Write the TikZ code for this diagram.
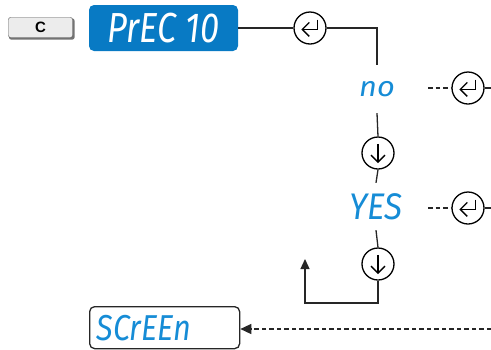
\documentclass[tikz,border=0pt]{standalone}
\usepackage{fontspec}
\usepackage{graphicx}
\usepackage{tikz}
\usetikzlibrary{arrows.meta}
\newfontfamily\segfont{Fira Sans}
\newfontfamily\keyfont{Liberation Sans}
\definecolor{dispblue}{RGB}{8,122,196}
\definecolor{segblue}{RGB}{22,140,214}
\definecolor{keygray}{RGB}{236,236,236}
\tikzset{
  seg/.style={font=\segfont\itshape, text=segblue, inner sep=0pt},
  keycirc/.style={draw, circle, line width=1.3pt, minimum size=32pt, inner sep=0pt, fill=white},
  wire/.style={line width=1.3pt, draw=black!85},
  dashwire/.style={line width=1.3pt, draw=black!85, dash pattern=on 4.5pt off 3pt},
}
\newcommand{\enterglyph}{\tikz[line width=1.3pt, x=1.4pt, y=1.4pt]{\draw (5,6)--(5,-1)--(-6,-1); \draw (-1,4)--(-6,-1)--(-1,-6);}}
\newcommand{\downglyph}{\tikz[line width=1.3pt, x=1.4pt, y=1.4pt]{\draw (0,7)--(0,-6); \draw (-5,-1)--(0,-6)--(5,-1);}}
\begin{document}
\begin{tikzpicture}[x=1pt, y=-1pt]
\useasboundingbox (0,0) rectangle (491,349);

%key and top display
\fill[black!55, rounded corners=2pt] (9,18.5) rectangle (74.5,39.5);
\node[draw=black!70, fill=keygray, rounded corners=2pt, minimum width=64pt, minimum height=20pt, inner sep=0pt, font=\keyfont\bfseries] (ckey) at (40.5,27.5) {\scalebox{1.5}{C}};
\node[fill=dispblue, rounded corners=5pt, minimum width=149pt, minimum height=46pt, inner sep=0pt, text=white, font=\segfont\itshape\fontsize{42}{42}\selectfont] (prec) at (163.5,28) {\scalebox{0.82}[1]{PrEC 10}};

%main column
\node[keycirc] (enter1) at (310,28) {\enterglyph};
\node[seg, font=\segfont\itshape\fontsize{28}{28}\selectfont, minimum height=48pt] (nolbl) at (377,89) {\scalebox{1.1}[1]{no}};
\node[keycirc] (down1) at (378,153) {\downglyph};
\node[seg, font=\segfont\itshape\fontsize{37}{37}\selectfont, minimum height=47pt] (yeslbl) at (376,206.5) {\scalebox{0.9}[1]{YES}};
\node[keycirc] (down2) at (378,264) {\downglyph};

\draw[wire] (prec.east) -- (enter1.west);
\draw[wire] (enter1.east) -| (nolbl.north);
\draw[wire] (nolbl.south) -- (down1.north);
\draw[wire] (down1.south) -- (yeslbl.north);
\draw[wire] (yeslbl.south) -- (down2.north);
\coordinate (bend) at (305,303);
\coordinate (back) at (305,259);
\draw[wire, -{Triangle[length=10pt, width=9pt]}] (down2.south) |- (bend) -- (back);

%right branches
\node[keycirc] (noenter) at (468,88) {\enterglyph};
\node[keycirc] (yesenter) at (468,208) {\enterglyph};
\coordinate (nodash) at (428,88);
\coordinate (noout) at (491,88);
\coordinate (yesdash) at (428,208);
\coordinate (yesout) at (491,208);
\draw[dashwire] (nodash) -- (noenter.west);
\draw[wire] (noenter.east) -- (noout);
\draw[dashwire] (yesdash) -- (yesenter.west);
\draw[wire] (yesenter.east) -- (yesout);

%bottom display
\node[draw=black!85, line width=1.3pt, fill=white, rounded corners=5pt, minimum width=150pt, minimum height=42pt, inner sep=0pt, anchor=north west, text=segblue, font=\segfont\itshape\fontsize{36}{36}\selectfont] (screen) at (89,306) {\makebox[136pt][l]{\scalebox{0.85}[1]{SCrEEn}}};
\coordinate (scrin) at (491,329);
\draw[dashwire, -{Triangle[length=11pt, width=10pt]}] (scrin) -- (screen.east |- scrin);
\end{tikzpicture}
\end{document}
